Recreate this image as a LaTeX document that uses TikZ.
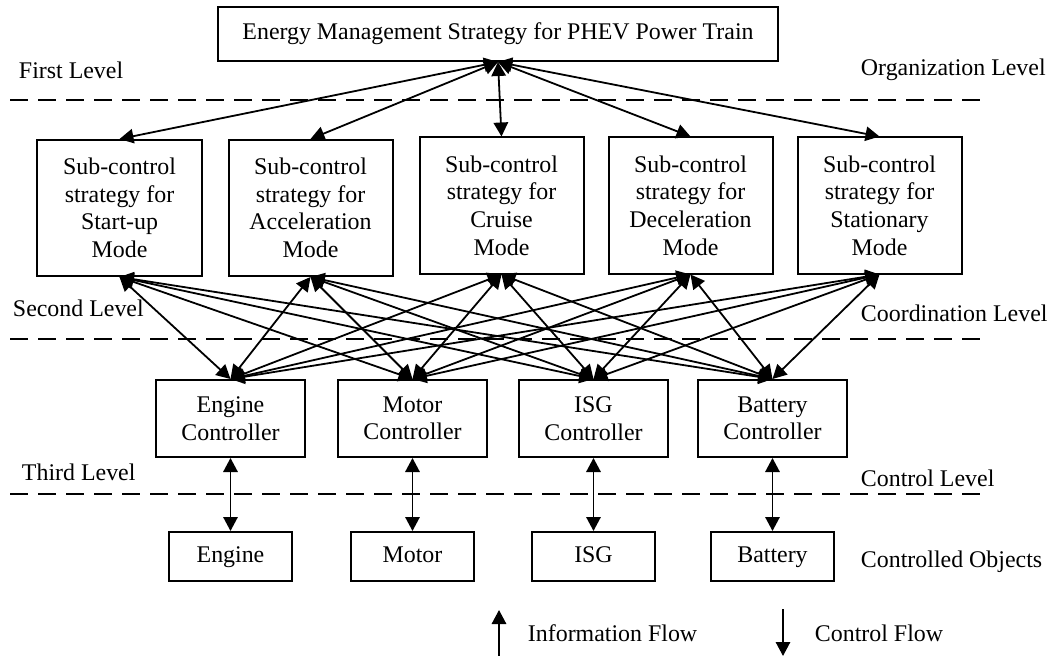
\documentclass[tikz,border=0pt]{standalone}
\usepackage{fontspec}
\setmainfont{Liberation Serif}
\usetikzlibrary{arrows.meta}
\tikzset{
  box/.style={draw,line width=0.5mm,align=center,inner sep=0pt},
  subbox/.style={box,minimum width=41mm,minimum height=34mm},
  ctlbox/.style={box,minimum width=37.25mm,minimum height=19.25mm},
  objbox/.style={box,minimum width=30.75mm,minimum height=12.25mm,text height=2ex,text depth=0pt},
  flow/.style={<->,line width=0.45mm},
  levelline/.style={dash pattern=on 4.5mm off 2.5mm,line width=0.4mm},
}
\begin{document}
\begin{tikzpicture}[x=0.25mm,y=-0.25mm,>={Triangle[length=3.5mm,width=3.6mm]},font=\fontsize{17}{19.6}\selectfont]
	\useasboundingbox (0,0) rectangle (1051,656);
	% organization level
	\node[box,minimum width=140mm,minimum height=13.5mm] (ems) at (498,34) {Energy Management Strategy for PHEV Power Train};
	\foreach \n/\x/\y/\m in {start/119.5/208/Start-up,acc/310.5/208/Acceleration,cruise/501.5/205.5/Cruise,dec/690.5/205.5/Deceleration,stat/879.5/205.5/Stationary}
		\node[subbox] (\n) at (\x,\y) {Sub-control\\strategy for\\\m\\Mode};
	\foreach \n in {start,acc,cruise,dec,stat}
		\draw[flow] (ems.south) -- (\n.north);
	% controllers and controlled objects
	\foreach \n/\x/\t in {eng/230.5/Engine,mot/412.5/Motor,isg/593.5/ISG,bat/772.5/Battery}{
		\node[ctlbox] (\n-ctl) at (\x,418.5) {\t\\Controller};
		\node[objbox] (\n) at (\x,556.5) {\t};
		\draw[flow] (\n-ctl.south) -- (\n.north);
	}
	\foreach \s in {start,acc,cruise,dec,stat}
		\foreach \c in {eng,mot,isg,bat}
			\draw[flow] (\s.south) -- (\c-ctl.north);
	% levels
	\draw[levelline] (10,100) -- (985,100);
	\draw[levelline] (10,339) -- (985,339);
	\draw[levelline] (10,494) -- (985,494);
	\node[anchor=west] (first) at (14,70) {First Level};
	\node[anchor=west] (second) at (8,308) {Second Level};
	\node[anchor=west] (third) at (17,472) {Third Level};
	\node[anchor=west] (org) at (856,70) {Organization Level};
	\node[anchor=west] (coord) at (856,313) {Coordination Level};
	\node[anchor=west] (ctrl) at (856,478) {Control Level};
	\node[anchor=west] (objs) at (856,562) {Controlled Objects};
	% legend
	\coordinate (infoTail) at (499,656);
	\coordinate (infoHead) at (499,610);
	\draw[->,line width=0.45mm] (infoTail) -- (infoHead);
	\node[anchor=west] (info) at (523,633) {Information Flow};
	\coordinate (ctrlTail) at (783,609);
	\coordinate (ctrlHead) at (783,656);
	\draw[->,line width=0.45mm] (ctrlTail) -- (ctrlHead);
	\node[anchor=west] (ctrlflow) at (810,633) {Control Flow};
\end{tikzpicture}
\end{document}
